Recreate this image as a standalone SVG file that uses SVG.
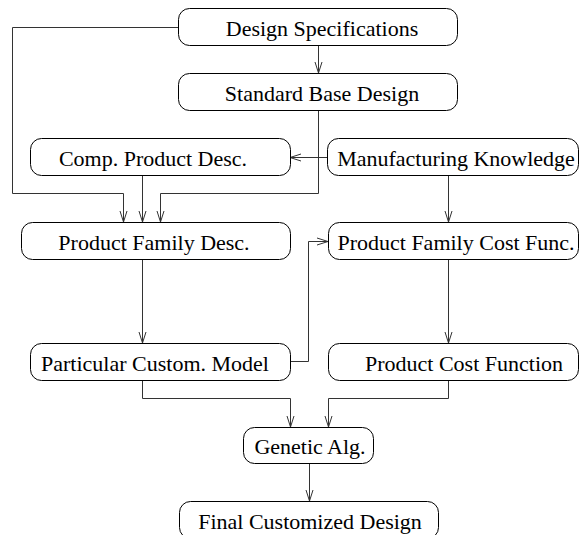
<svg xmlns="http://www.w3.org/2000/svg" width="579" height="535" viewBox="0 0 579 535">
<style>
.box{fill:#fff;stroke:#000;stroke-width:1}
.lbl{font-family:"Liberation Serif","Times New Roman",serif;font-size:22px;fill:#000;text-anchor:middle}
.con{fill:none;stroke:#333;stroke-width:1;marker-end:url(#arr)}
</style>
<defs>
<marker id="arr" markerUnits="userSpaceOnUse" markerWidth="14" markerHeight="10" viewBox="-12 -5 14 10" refX="0" refY="0" orient="auto">
<path d="M-11,-3.5 L0,0 L-11,3.5" fill="none" stroke="#333" stroke-width="1"/>
</marker>
</defs>
<g id="connectors">
<path class="con" d="M318.5,45 V73"/>
<path class="con" d="M178,27.5 H12.5 V193.5 H123.5 V222"/>
<path class="con" d="M142.5,175 V222"/>
<path class="con" d="M318.5,110 V193.5 H160.5 V222"/>
<path class="con" d="M327,157.5 H290"/>
<path class="con" d="M448.5,175 V222"/>
<path class="con" d="M142.5,259 V343"/>
<path class="con" d="M290,361.5 H308.5 V241.5 H328"/>
<path class="con" d="M448.5,259 V343"/>
<path class="con" d="M142.5,380 V398.5 H290.5 V427"/>
<path class="con" d="M448.5,380 V398.5 H328.5 V427"/>
<path class="con" d="M309.5,463 V501"/>
</g>
<g id="n-design-spec"><rect class="box" x="178.5" y="8.5" width="279" height="37" rx="11"/><text class="lbl" x="322" y="36">Design Specifications</text></g>
<g id="n-standard-base"><rect class="box" x="178.5" y="73.5" width="279" height="37" rx="11"/><text class="lbl" x="322" y="101">Standard Base Design</text></g>
<g id="n-comp-product"><rect class="box" x="30.5" y="138.5" width="260" height="37" rx="11"/><text class="lbl" x="153" y="166">Comp. Product Desc.</text></g>
<g id="n-manufacturing"><rect class="box" x="327.5" y="138.5" width="251" height="37" rx="11"/><text class="lbl" x="456" y="166">Manufacturing Knowledge</text></g>
<g id="n-product-family"><rect class="box" x="21.5" y="222.5" width="269" height="37" rx="11"/><text class="lbl" x="154" y="250">Product Family Desc.</text></g>
<g id="n-family-cost"><rect class="box" x="328.5" y="222.5" width="250" height="37" rx="11"/><text class="lbl" x="456" y="250">Product Family Cost Func.</text></g>
<g id="n-particular"><rect class="box" x="30.5" y="343.5" width="260" height="37" rx="11"/><text class="lbl" x="155" y="371">Particular Custom. Model</text></g>
<g id="n-product-cost"><rect class="box" x="328.5" y="343.5" width="250" height="37" rx="11"/><text class="lbl" x="464" y="371">Product Cost Function</text></g>
<g id="n-genetic"><rect class="box" x="243.5" y="427.5" width="130" height="36" rx="11"/><text class="lbl" x="310" y="454">Genetic Alg.</text></g>
<g id="n-final"><rect class="box" x="179.5" y="501.5" width="259" height="37" rx="11"/><text class="lbl" x="310" y="529">Final Customized Design</text></g>
</svg>
